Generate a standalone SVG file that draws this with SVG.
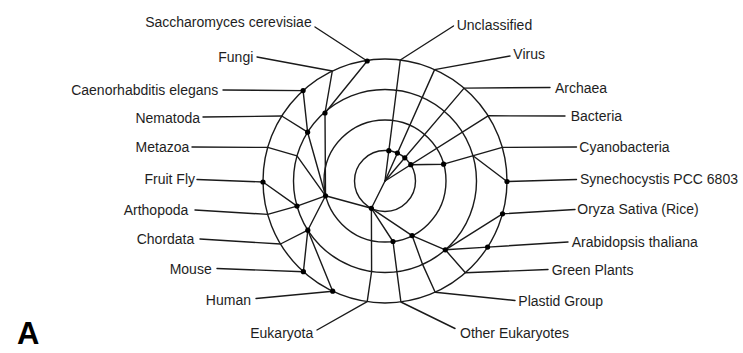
<svg xmlns="http://www.w3.org/2000/svg" width="743" height="353" viewBox="0 0 743 353">
<style>
.ring{fill:none;stroke:#1a1a1a;stroke-width:1.4}
.ln{fill:none;stroke:#1a1a1a;stroke-width:1.4;stroke-linejoin:round;stroke-linecap:round}
.dot{fill:#000}
.lbl{font-family:"Liberation Sans",Arial,sans-serif;font-size:14px;fill:#1e1e1e}
.l{text-anchor:end}
.big{font-family:"Liberation Sans",Arial,sans-serif;font-size:31px;font-weight:bold;fill:#000}
</style>
<rect width="743" height="353" fill="#fff"/>
<g id="rings">
<circle class="ring" cx="385" cy="181" r="30.5"/>
<circle class="ring" cx="385" cy="181" r="61"/>
<circle class="ring" cx="385" cy="181" r="91.5"/>
<circle class="ring" cx="385" cy="181" r="122"/>
</g>
<g id="connectors">
<!-- root branches -->
<path class="ln" d="M385,181 L400.3,60 L453.5,26"/>
<path class="ln" d="M385,181 L434.6,69.6 L510,56"/>
<path class="ln" d="M385,181 L464.1,88.1 L550,87.5"/>
<path class="ln" d="M385,181 L488.1,115.8 L565,116"/>
<path class="ln" d="M385,181 L371.4,208.3"/>
<!-- bacteria -->
<path class="ln" d="M410.8,164.7 L443.6,164.2 L502.3,147.4 L576.5,147"/>
<path class="ln" d="M473,155.8 L507,181.5 L576.5,179.5"/>
<!-- eukaryota -->
<path class="ln" d="M371.4,208.3 L371.6,271.5 L367.2,301.7 L317,330"/>
<path class="ln" d="M371.4,208.3 L325.5,195.8"/>
<path class="ln" d="M371.4,208.3 L393,241.5 L396.9,271.7 L400.9,302 L455,328.5"/>
<path class="ln" d="M371.4,208.3 L412.1,235.6 L422.6,264.4 L435.2,292.2 L515,300.5"/>
<!-- plants -->
<path class="ln" d="M412.1,235.6 L445.3,249.8 L465.4,272.8 L548,269.5"/>
<path class="ln" d="M445.3,249.8 L502.5,213.8 L575,209.5"/>
<path class="ln" d="M445.3,249.8 L487.6,247.1 L568,242"/>
<!-- metazoa / fungi -->
<path class="ln" d="M325.5,195.8 L297,155.8 L267.7,147.4 L192,147"/>
<path class="ln" d="M325.5,195.8 L325,113 L332.3,71 L257,57"/>
<path class="ln" d="M325,113 L367.2,61 L315,27"/>
<path class="ln" d="M325.5,195.8 L307.6,132.2 L281.8,116 L203,117"/>
<path class="ln" d="M307.6,132.2 L303.1,90.6 L223,90"/>
<path class="ln" d="M325.5,195.8 L297,206.1 L267.7,214.4 L195,210"/>
<path class="ln" d="M297,206.1 L263,182 L197,179.5"/>
<path class="ln" d="M325.5,195.8 L307.8,230.2 L280.5,244 L200,239"/>
<path class="ln" d="M307.8,230.2 L303.4,271.7 L217,268.5"/>
<path class="ln" d="M307.8,230.2 L332.7,291.2 L256,298.5"/>
</g>
<g id="node-unclassified"><circle class="dot" cx="388.8" cy="150.7" r="2.6"/><text class="lbl" x="456.7" y="30">Unclassified</text></g>
<g id="node-virus"><circle class="dot" cx="397.4" cy="153.1" r="2.6"/><text class="lbl" x="513.3" y="59">Virus</text></g>
<g id="node-archaea"><circle class="dot" cx="404.8" cy="157.8" r="2.6"/><text class="lbl" x="555" y="92.5">Archaea</text></g>
<g id="node-bacteria"><circle class="dot" cx="410.8" cy="164.7" r="2.6"/><text class="lbl" x="570.7" y="121">Bacteria</text></g>
<g id="node-cyanobacteria"><circle class="dot" cx="443.6" cy="164.2" r="2.6"/><text class="lbl" x="579.3" y="151.5">Cyanobacteria</text></g>
<g id="node-synechocystis"><circle class="dot" cx="507" cy="181.5" r="2.6"/><text class="lbl" x="580" y="184">Synechocystis PCC 6803</text></g>
<g id="node-eukaryota"><circle class="dot" cx="371.4" cy="208.3" r="2.6"/><text class="lbl l" x="313.3" y="337.5">Eukaryota</text></g>
<g id="node-other-eukaryotes"><circle class="dot" cx="393" cy="241.5" r="2.6"/><text class="lbl" x="460" y="337.5">Other Eukaryotes</text></g>
<g id="node-plastid"><circle class="dot" cx="412.1" cy="235.6" r="2.6"/><text class="lbl" x="518.3" y="306">Plastid Group</text></g>
<g id="node-green-plants"><circle class="dot" cx="445.3" cy="249.8" r="2.6"/><text class="lbl" x="551.7" y="274.5">Green Plants</text></g>
<g id="node-rice"><circle class="dot" cx="502.5" cy="213.8" r="2.6"/><text class="lbl" x="577.3" y="213.5">Oryza Sativa (Rice)</text></g>
<g id="node-arabidopsis"><circle class="dot" cx="487.6" cy="247.1" r="2.6"/><text class="lbl" x="571.7" y="247">Arabidopsis thaliana</text></g>
<g id="node-metazoa"><circle class="dot" cx="325.5" cy="195.8" r="2.6"/><text class="lbl l" x="189.3" y="152">Metazoa</text></g>
<g id="node-fungi"><circle class="dot" cx="325" cy="113" r="2.6"/><text class="lbl l" x="253.3" y="61.5">Fungi</text></g>
<g id="node-saccharomyces"><circle class="dot" cx="367.2" cy="61" r="2.6"/><text class="lbl l" x="311.7" y="27">Saccharomyces cerevisiae</text></g>
<g id="node-nematoda"><circle class="dot" cx="307.6" cy="132.2" r="2.6"/><text class="lbl l" x="200" y="123">Nematoda</text></g>
<g id="node-celegans"><circle class="dot" cx="303.1" cy="90.6" r="2.6"/><text class="lbl l" x="218.3" y="95">Caenorhabditis elegans</text></g>
<g id="node-arthopoda"><circle class="dot" cx="297" cy="206.1" r="2.6"/><text class="lbl l" x="188.3" y="214.5">Arthopoda</text></g>
<g id="node-fruitfly"><circle class="dot" cx="263" cy="182" r="2.6"/><text class="lbl l" x="195" y="183.5">Fruit Fly</text></g>
<g id="node-chordata"><circle class="dot" cx="307.8" cy="230.2" r="2.6"/><text class="lbl l" x="194.3" y="243.5">Chordata</text></g>
<g id="node-mouse"><circle class="dot" cx="303.4" cy="271.7" r="2.6"/><text class="lbl l" x="211.7" y="273.5">Mouse</text></g>
<g id="node-human"><circle class="dot" cx="332.7" cy="291.2" r="2.6"/><text class="lbl l" x="251" y="305">Human</text></g>
<text class="big" x="17" y="343.5">A</text>
</svg>
